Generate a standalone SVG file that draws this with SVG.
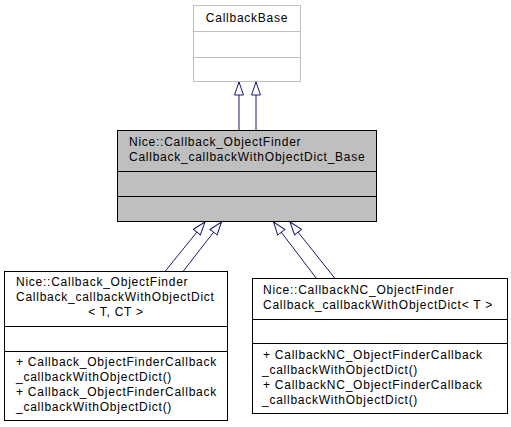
<svg xmlns="http://www.w3.org/2000/svg" width="511" height="427" viewBox="0 0 511 427">
<style>
  text { font-family: "Liberation Sans", Arial, sans-serif; font-size: 12px; letter-spacing: 0.75px; fill: #000; }
  .mid { text-anchor: middle; }
  .box { fill: #fff; stroke: #000; stroke-width: 1; }
  .ext { fill: #fff; stroke: #bfbfbf; stroke-width: 1; }
  .cur { fill: #bfbfbf; stroke: #000; stroke-width: 1; }
  .div { stroke: #000; stroke-width: 1; }
  .divg { stroke: #bfbfbf; stroke-width: 1; }
  .edge { fill: none; stroke: #191970; stroke-width: 1; marker-end: url(#inh); }
</style>
<defs>
  <marker id="inh" markerUnits="userSpaceOnUse" markerWidth="15" markerHeight="11" refX="13.5" refY="5" orient="auto" viewBox="0 0 15 11">
    <path d="M0.5,0.5 L13.5,5 L0.5,9.5 Z" fill="#fff" stroke="#191970" stroke-width="1"/>
  </marker>
</defs>
<rect width="511" height="427" fill="#fff"/>

<g id="connectors">
  <path class="edge" d="M239,130.5 L239,82"/>
  <path class="edge" d="M256,130.5 L256,82"/>
  <path class="edge" d="M165,271.5 L205,222"/>
  <path class="edge" d="M183,271.5 L221.5,222"/>
  <path class="edge" d="M316.5,278.5 L273.5,222"/>
  <path class="edge" d="M335,278.5 L290,222"/>
</g>

<g id="node-callbackbase">
  <rect class="ext" x="193.5" y="5.5" width="107" height="76"/>
  <line class="divg" x1="193.5" y1="31.5" x2="300.5" y2="31.5"/>
  <line class="divg" x1="193.5" y1="57.5" x2="300.5" y2="57.5"/>
  <text class="mid" x="247" y="22">CallbackBase</text>
</g>

<g id="node-base">
  <rect class="cur" x="117.5" y="130.5" width="259" height="91"/>
  <line class="div" x1="117.5" y1="171.5" x2="376.5" y2="171.5"/>
  <line class="div" x1="117.5" y1="196.5" x2="376.5" y2="196.5"/>
  <text x="129" y="146">Nice::Callback_ObjectFinder</text>
  <text x="129" y="161">Callback_callbackWithObjectDict_Base</text>
</g>

<g id="node-left">
  <rect class="box" x="4.5" y="271.5" width="223" height="149"/>
  <line class="div" x1="4.5" y1="326.5" x2="227.5" y2="326.5"/>
  <line class="div" x1="4.5" y1="351.5" x2="227.5" y2="351.5"/>
  <text x="16" y="286">Nice::Callback_ObjectFinder</text>
  <text x="16" y="301">Callback_callbackWithObjectDict</text>
  <text class="mid" x="116" y="316">&lt; T, CT &gt;</text>
  <text x="16" y="366">+ Callback_ObjectFinderCallback</text>
  <text x="16" y="381">_callbackWithObjectDict()</text>
  <text x="16" y="396">+ Callback_ObjectFinderCallback</text>
  <text x="16" y="411">_callbackWithObjectDict()</text>
</g>

<g id="node-right">
  <rect class="box" x="252.5" y="278.5" width="255" height="135"/>
  <line class="div" x1="252.5" y1="319.5" x2="507.5" y2="319.5"/>
  <line class="div" x1="252.5" y1="343.5" x2="507.5" y2="343.5"/>
  <text x="263" y="294">Nice::CallbackNC_ObjectFinder</text>
  <text x="263" y="309">Callback_callbackWithObjectDict&lt; T &gt;</text>
  <text x="263" y="359">+ CallbackNC_ObjectFinderCallback</text>
  <text x="262" y="374">_callbackWithObjectDict()</text>
  <text x="263" y="389">+ CallbackNC_ObjectFinderCallback</text>
  <text x="262" y="404">_callbackWithObjectDict()</text>
</g>
</svg>
